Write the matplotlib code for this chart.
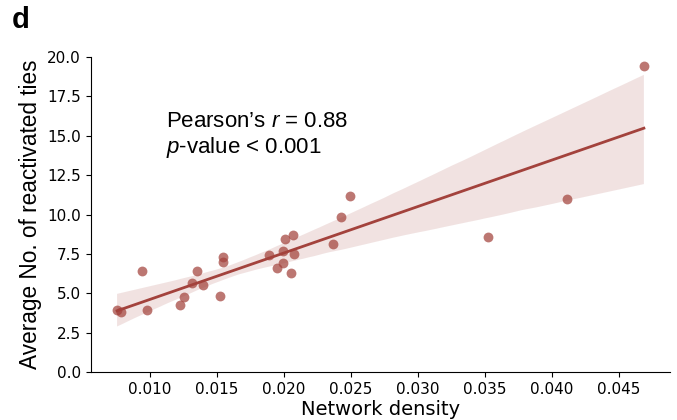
import numpy as np
import matplotlib
matplotlib.use("Agg")
import matplotlib.pyplot as plt
import seaborn as sns

density = [0.00756, 0.00786, 0.00945, 0.00983, 0.01229, 0.01257, 0.01349, 0.01319,
           0.01401, 0.01526, 0.01546, 0.01546, 0.01887, 0.01947, 0.01992, 0.01997,
           0.02007, 0.02072, 0.02076, 0.02054, 0.02365, 0.02425, 0.02495, 0.03524,
           0.04112, 0.04688]
reactivated = [3.94, 3.81, 6.41, 3.96, 4.27, 4.74, 6.43, 5.63,
               5.50, 4.84, 7.28, 6.98, 7.45, 6.58, 6.94, 7.68,
               8.46, 8.72, 7.49, 6.30, 8.13, 9.86, 11.17, 8.55,
               10.98, 19.43]
xticks = [0.010, 0.015, 0.020, 0.025, 0.030, 0.035, 0.040, 0.045]
yticks = [0.0, 2.5, 5.0, 7.5, 10.0, 12.5, 15.0, 17.5, 20.0]

plt.rcParams['mathtext.fontset'] = 'custom'
plt.rcParams['mathtext.rm'] = 'Liberation Sans'
plt.rcParams['mathtext.it'] = 'Liberation Sans:italic'

fig = plt.figure(figsize=(6.77, 4.2), dpi=100)
ax = fig.add_axes([0.134, 0.114, 0.856, 0.750])

color = "#a3423c"
sns.regplot(x=np.array(density), y=np.array(reactivated), ax=ax, color=color,
            scatter_kws=dict(s=50, alpha=0.72, linewidths=0),
            line_kws=dict(lw=2), seed=3)

ax.set_ylim(0, 20)
ax.set_xticks(xticks)
ax.set_xticklabels([f"{t:.3f}" for t in xticks], fontsize=11)
ax.set_yticks(yticks)
ax.set_yticklabels([f"{t:.1f}" for t in yticks], fontsize=11)
ax.spines['top'].set_visible(False)
ax.spines['right'].set_visible(False)
ax.set_xlabel("Network density", fontsize=14, labelpad=2)
ax.set_ylabel("Average No. of reactivated ties", fontsize=16.3, family="Liberation Sans", labelpad=4)

ax.text(0.13, 0.752, "Pearson’s $r$ = 0.88\n$p$-value < 0.001", transform=ax.transAxes,
        fontsize=16, family="Liberation Sans", va="center", ha="left", linespacing=1.15)

fig.text(0.018, 0.985, "d", fontsize=21, fontweight="bold", family="Liberation Sans",
         va="top", ha="left")

fig.savefig("out.png", dpi=100)
